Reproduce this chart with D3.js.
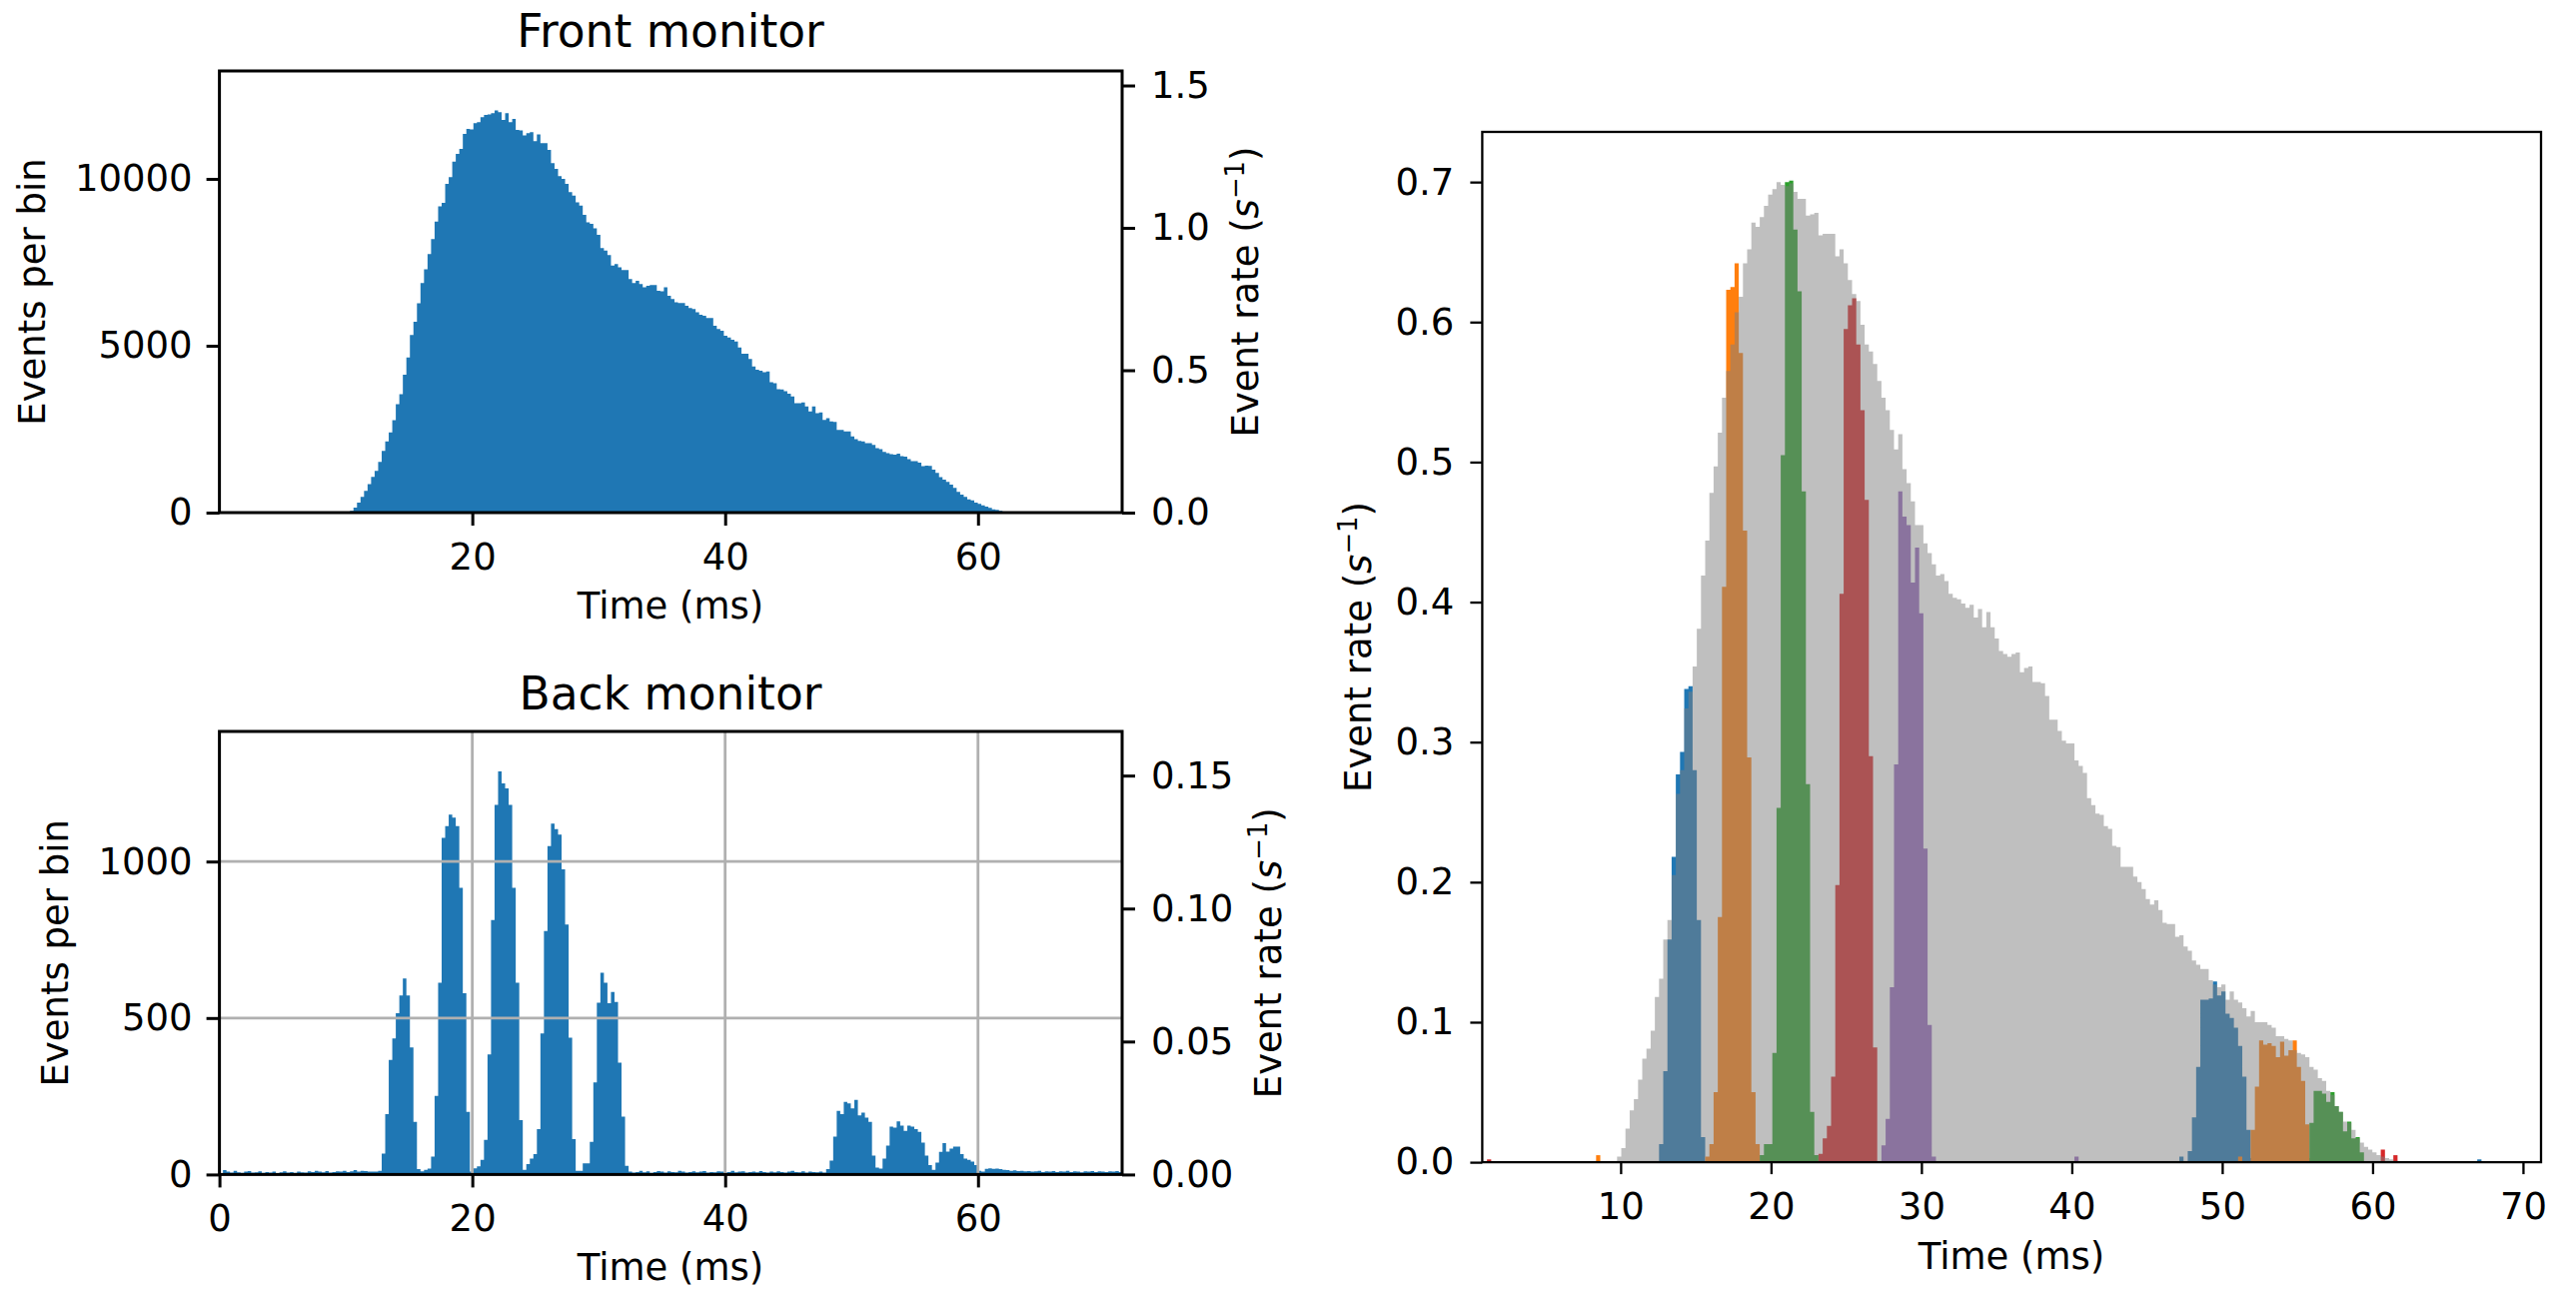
<!DOCTYPE html>
<html>
<head>
<meta charset="utf-8">
<script src="https://cdn.jsdelivr.net/npm/d3@7"></script>
<style>
  body { margin: 0; background: #fff; }
  svg { display: block; }
  text { font-family: "DejaVu Sans", sans-serif; fill: #000; }
</style>
</head>
<body>
<div id="chart"></div>
<script>
// ---- data ----
const binWidth = 0.279; // ms, same time bins for every histogram

// front monitor, events per bin, first bin index
const frontStart = 37;
const frontCounts = [
  50,150,300,470,650,850,1070,1250,1520,1850,
  2130,2400,2770,3250,3550,4130,4650,5320,5720,6270,
  6880,7290,7750,8200,8720,9180,9280,9850,10050,10520,
  10750,10900,11350,11500,11480,11670,11700,11850,11920,11930,
  11970,12050,12000,11770,11970,11700,11800,11470,11450,11300,
  11370,11400,11130,11330,11070,11070,10870,10470,10300,10080,
  10000,9850,9600,9500,9300,9200,8920,8700,8650,8520,
  8320,7930,7850,7720,7400,7450,7350,7270,7270,7000,
  6880,6950,6850,6750,6800,6820,6820,6650,6630,6750,
  6500,6400,6300,
  6280,6280,6200,6130,6100,6000,5930,5900,5830,5830,
  5600,5500,5450,5300,5250,5180,5130,4950,4760,4760,
  4600,4380,4280,4250,4210,4230,3910,3880,3700,3690,
  3640,3560,3480,3280,3280,3300,3180,3030,3180,2980,
  3000,2780,2830,2730,2720,2480,2480,2430,2430,2280,
  2200,2150,2130,2080,2080,2030,1930,1900,1820,1780,
  1750,1740,1770,1690,1680,1600,1540,1540,1500,1390,
  1410,1400,1290,1190,1060,990,920,840,740,620,
  540,470,400,370,300,260,220,180,140,100,
  80,50,30,15
];

// back monitor, events per bin, from bin 0
const backStart = 0;
const backCounts = [
  0,14,9,6,12,7,5,9,11,6, 7,10,5,8,6,9,4,7,10,6,
  8,5,9,7,6,10,8,12,9,7, 11,6,8,10,9,12,8,10,14,9,
  12,11,9,9,9,12,
  67,193,366,435,515,572,626,572,406,168,17,10,15,19,
  57,251,613,1076,1113,1150,1140,1113,916,579,200,9,
  20,26,47,111,384,813,1181,1288,1250,1234,1181,916,613,174,15,
  33,51,65,145,451,778,1049,1121,1104,1086,975,799,437,113,12,12,
  36,36,104,294,549,645,613,547,583,551,357,185,28,
  9,6,8,12,7,10,5,8,11,9, 6,10,8,7,12,9,6,8,10,7,
  9,11,6,8,7,10,9,6,8,12, 7,9,10,6,8,9,7,11,8,6,
  9,7,10,8,6,9,12,8,7,10, 6,9,8,7,
  9,6,17,44,121,203,193,232,227,211,
  238,189,198,182,168,60,22,19,51,92,
  153,150,170,156,139,156,153,145,136,102,
  60,30,15,38,72,100,73,83,89,89,
  65,51,47,41,30,12,
  9,18,20,18,19,17,15,14,12,13, 11,12,10,11,9,10,12,8,10,9,
  11,8,10,9,12,8,10,9,7,10, 9,11,8,10,9,8,10,9,11,8
];

// right panel: total event rate (grey)
const grayStart = 35;
const grayRate = [
  0.004,
  0.010,0.024,0.037,0.045,0.059,0.074,0.081,0.094,0.118,0.131,
  0.159,0.173,0.205,0.263,0.280,0.324,0.336,0.354,0.381,0.419,
  0.444,0.478,0.497,0.521,0.546,0.565,0.584,0.607,0.618,0.642,
  0.652,0.671,0.668,0.675,0.683,0.691,0.695,0.700,0.698,0.697,
  0.699,0.693,0.688,0.688,0.676,0.677,0.678,0.662,0.663,0.663,
  0.663,0.647,0.652,0.642,0.630,0.620,0.615,0.598,0.584,0.579,
  0.570,0.558,0.546,0.537,0.523,0.509,0.520,0.495,0.485,0.472,
  0.455,0.455,0.442,0.435,0.427,0.419,0.420,0.415,0.406,0.403,
  0.402,0.399,0.396,0.398,0.389,
  0.395,0.382,0.393,0.382,0.374,0.365,0.363,0.361,0.363,0.364,
  0.350,0.353,0.354,0.343,0.343,0.342,0.333,0.316,0.316,0.308,
  0.301,0.299,0.299,0.287,0.283,0.278,0.260,0.255,0.249,0.248,
  0.240,0.238,0.226,0.225,0.211,0.211,0.211,0.204,0.200,0.195,
  0.188,0.184,0.187,0.180,0.171,0.170,0.170,0.161,0.162,0.154,
  0.151,0.144,0.141,0.138,0.138,0.130,0.127,0.125,0.127,0.116,
  0.122,0.116,0.114,0.110,0.104,0.108,0.100,0.100,0.100,0.098,
  0.096,0.090,0.090,0.088,0.087,0.080,0.078,0.077,0.075,0.068,
  0.066,0.060,0.058,0.051,0.048,0.040,0.036,0.029,0.028,0.023,
  0.017,0.014,0.011,0.009,0.007,0.005,0.004,0.003,0.002,0.001
];

// right panel: rate per wavelength frame (coloured)
const peakColors = ["#1f77b4", "#ff7f0e", "#2ca02c", "#d62728", "#9467bd", "#1f77b4", "#ff7f0e", "#2ca02c"];
const peakStarts = [45, 56, 69, 83, 98, 171, 186, 200];
const peakRates = [
  [0.013,0.065,0.159,0.218,0.277,0.293,0.338,0.340,0.280,0.173,0.018],
  [0.004,0.013,0.050,0.175,0.411,0.623,0.625,0.642,0.578,0.451,0.289,0.050,0.013],
  [0.005,0.013,0.013,0.078,0.253,0.505,0.700,0.701,0.666,0.622,0.479,0.270,0.036,0.005],
  [0.006,0.017,0.026,0.061,0.198,0.406,0.595,0.612,0.617,0.584,0.537,0.473,0.290,0.082],
  [0.012,0.031,0.125,0.284,0.479,0.461,0.455,0.414,0.439,0.392,0.224,0.098,0.004],
  [0.008,0.032,0.068,0.116,0.116,0.117,0.129,0.119,0.122,0.106,0.103,0.096,0.083,0.061,0.023,0.003],
  [0.023,0.054,0.087,0.084,0.085,0.083,0.075,0.086,0.076,0.080,0.087,0.068,0.058,0.027,0.003],
  [0.028,0.051,0.051,0.049,0.043,0.050,0.040,0.036,0.022,0.029,0.017,0.018,0.007]
];
// small stray counts near the baseline
const blipBins = [4, 30, 144, 169, 183, 217, 220, 240];
const blipRates = [0.002, 0.005, 0.004, 0.004, 0.004, 0.009, 0.005, 0.002];
const blipColors = ["#d62728", "#ff7f0e", "#9467bd", "#1f77b4", "#ff7f0e", "#d62728", "#d62728", "#1f77b4"];

// axis ticks
const frontXTicks = [20, 40, 60];
const frontYTicks = [0, 5000, 10000];
const frontRateTicks = [0, 0.5, 1.0, 1.5];
const backXTicks = [0, 20, 40, 60];
const backYTicks = [0, 500, 1000];
const backRateTicks = [0, 0.05, 0.10, 0.15];
const rightXTicks = [10, 20, 30, 40, 50, 60, 70];
const rightYTicks = [0, 0.1, 0.2, 0.3, 0.4, 0.5, 0.6, 0.7];

// ---- drawing ----
const W = 2578, H = 1292;
const FS = 37, TITLE_FS = 45.5;
const svg = d3.select("#chart").append("svg").attr("width", W).attr("height", H);
svg.append("rect").attr("width", W).attr("height", H).attr("fill", "#fff");

function makePanel(id, box, xDomain, yDomain) {
  const x = d3.scaleLinear(xDomain, [box.left, box.right]);
  const y = d3.scaleLinear(yDomain, [box.bottom, box.top]);
  svg.append("clipPath").attr("id", id).append("rect")
    .attr("x", box.left).attr("y", box.top)
    .attr("width", box.right - box.left).attr("height", box.bottom - box.top);
  const g = svg.append("g").attr("clip-path", `url(#${id})`);
  return { box, x, y, g };
}

function histPath(x, y, start, values) {
  const pts = values.map((v, i) => ({ t: (start + i) * binWidth, v }));
  pts.push({ t: (start + values.length) * binWidth, v: values[values.length - 1] });
  return d3.area()
    .x(d => x(d.t)).y0(y(0)).y1(d => y(d.v))
    .curve(d3.curveStepAfter)(pts);
}

function styleAxis(sel, sw) {
  sel.attr("font-family", "DejaVu Sans").attr("font-size", FS);
  sel.select(".domain").remove();
  sel.selectAll(".tick line").attr("stroke", "#000").attr("stroke-width", sw);
  sel.selectAll(".tick text").attr("fill", "#000");
}

function drawAxes(p, opt) {
  const b = p.box;
  const tl = opt.tickLen, sw = opt.sw;
  svg.append("g").attr("transform", `translate(0,${b.bottom})`)
    .call(d3.axisBottom(p.x).tickValues(opt.xTicks).tickFormat(d3.format("d"))
      .tickSize(tl).tickPadding(56.5 - tl - 0.71 * FS))
    .call(s => styleAxis(s, sw));
  svg.append("g").attr("transform", `translate(${b.left},0)`)
    .call(d3.axisLeft(p.y).tickValues(opt.yTicks).tickFormat(opt.yFmt)
      .tickSize(tl).tickPadding(opt.padL))
    .call(s => styleAxis(s, sw));
  if (opt.rate) {
    const yr = d3.scaleLinear(opt.rate.domain, [b.bottom, b.top]);
    svg.append("g").attr("transform", `translate(${b.right},0)`)
      .call(d3.axisRight(yr).tickValues(opt.rate.ticks).tickFormat(opt.rate.fmt)
        .tickSize(tl).tickPadding(16))
      .call(s => styleAxis(s, sw));
  }
  svg.append("rect")
    .attr("x", b.left).attr("y", b.top)
    .attr("width", b.right - b.left).attr("height", b.bottom - b.top)
    .attr("fill", "none").attr("stroke", "#000").attr("stroke-width", sw);
}

function rateLabel(xc, yc) {
  const t = svg.append("text")
    .attr("transform", `translate(${xc},${yc}) rotate(-90)`)
    .attr("text-anchor", "middle").style("font-size", FS + "px");
  t.append("tspan").text("Event rate (");
  t.append("tspan").style("font-style", "italic").text("s");
  t.append("tspan").style("font-size", (FS * 0.7) + "px").attr("dy", -14).text("\u22121");
  t.append("tspan").attr("dy", 14).text(")");
}

function plainLabel(xc, yc, txt, rotate) {
  svg.append("text")
    .attr("transform", `translate(${xc},${yc})` + (rotate ? " rotate(-90)" : ""))
    .attr("text-anchor", "middle").style("font-size", FS + "px").text(txt);
}

// Front monitor
const front = makePanel("clipFront", { left: 219.6, right: 1123, top: 71, bottom: 513 }, [0, 71.4], [0, 13234]);
front.g.append("path").attr("d", histPath(front.x, front.y, frontStart, frontCounts)).attr("fill", "#1f77b4");
drawAxes(front, {
  xTicks: frontXTicks, yTicks: frontYTicks, yFmt: d3.format("d"), tickLen: 13, sw: 3, padL: 14,
  rate: { domain: [0, 1.551], ticks: frontRateTicks, fmt: d3.format(".1f") }
});
svg.append("text").attr("x", 671).attr("y", 46.7).attr("text-anchor", "middle")
  .style("font-size", TITLE_FS + "px").text("Front monitor");
plainLabel(671, 513 + 106, "Time (ms)", false);
plainLabel(45, 292, "Events per bin", true);
rateLabel(1258.5, 292);

// Back monitor
const back = makePanel("clipBack", { left: 219.6, right: 1123, top: 732, bottom: 1175.4 }, [0, 71.4], [0, 1415.7]);
back.g.append("path").attr("d", histPath(back.x, back.y, backStart, backCounts)).attr("fill", "#1f77b4");
back.g.selectAll(".vgrid").data(backXTicks).enter().append("line")
  .attr("x1", d => back.x(d)).attr("x2", d => back.x(d))
  .attr("y1", 732).attr("y2", 1175.4)
  .attr("stroke", "#b0b0b0").attr("stroke-width", 2.8);
back.g.selectAll(".hgrid").data(backYTicks).enter().append("line")
  .attr("x1", 219.6).attr("x2", 1123)
  .attr("y1", d => back.y(d)).attr("y2", d => back.y(d))
  .attr("stroke", "#b0b0b0").attr("stroke-width", 2.8);
drawAxes(back, {
  xTicks: backXTicks, yTicks: backYTicks, yFmt: d3.format("d"), tickLen: 13, sw: 3, padL: 14,
  rate: { domain: [0, 0.1666], ticks: backRateTicks, fmt: d3.format(".2f") }
});
svg.append("text").attr("x", 671).attr("y", 710).attr("text-anchor", "middle")
  .style("font-size", TITLE_FS + "px").text("Back monitor");
plainLabel(671, 1175.4 + 106, "Time (ms)", false);
plainLabel(68, 953.7, "Events per bin", true);
rateLabel(1281.5, 953.7);

// Right panel: rates per frame over total
const right = makePanel("clipRight", { left: 1483.4, right: 2543, top: 132, bottom: 1163.1 }, [0.8, 71.2], [0, 0.7358]);
peakRates.forEach((vals, i) => {
  right.g.append("path").attr("d", histPath(right.x, right.y, peakStarts[i], vals)).attr("fill", peakColors[i]);
});
right.g.selectAll(".blip").data(blipBins).enter().append("rect")
  .attr("x", d => right.x(d * binWidth))
  .attr("width", d => right.x((d + 1) * binWidth) - right.x(d * binWidth))
  .attr("y", (d, i) => right.y(blipRates[i]))
  .attr("height", (d, i) => right.y(0) - right.y(blipRates[i]))
  .attr("fill", (d, i) => blipColors[i]);
right.g.append("path").attr("d", histPath(right.x, right.y, grayStart, grayRate))
  .attr("fill", "#808080").attr("fill-opacity", 0.5);
drawAxes(right, {
  xTicks: rightXTicks, yTicks: rightYTicks, yFmt: d3.format(".1f"), tickLen: 12, sw: 2.3, padL: 16
});
plainLabel(2013, 1163.1 + 107, "Time (ms)", false);
rateLabel(1372, 647.5);
</script>
</body>
</html>
